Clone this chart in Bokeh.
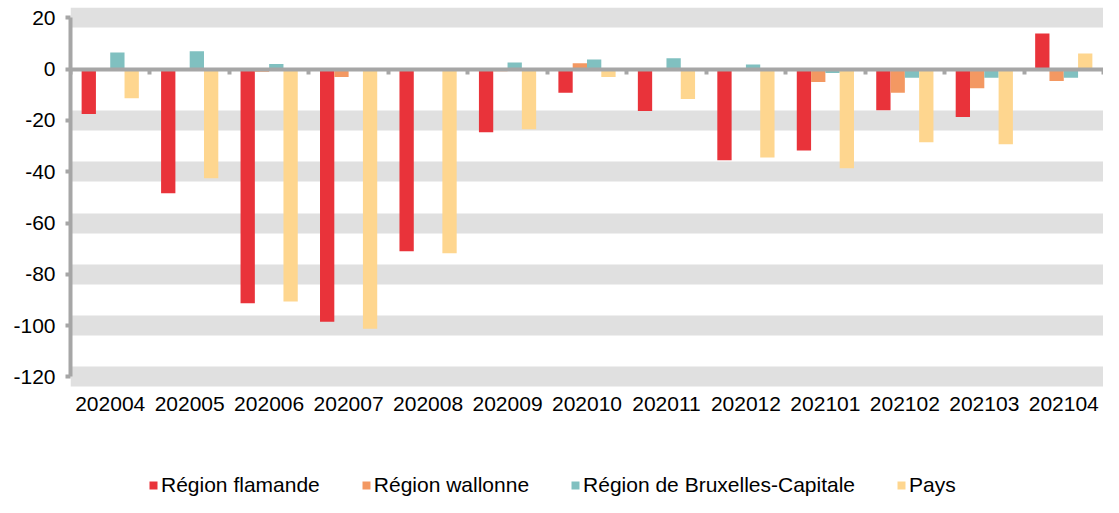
from bokeh.plotting import figure
from bokeh.models import (LinearAxis, FixedTicker, Legend, LegendItem,
                          ColumnDataSource, Range1d)
from bokeh.transform import dodge
from bokeh.embed import file_html
from bokeh.resources import INLINE

months = ["202004", "202005", "202006", "202007", "202008", "202009", "202010",
          "202011", "202012", "202101", "202102", "202103", "202104"]
flamande = [-17.5, -48.4, -91.3, -98.5, -71.0, -24.6, -9.2, -16.3, -35.5, -31.7, -16.0, -18.6, 13.9]
wallonne = [-0.3, -0.3, -1.0, -3.0, -0.5, -0.8, 2.3, 0.0, -0.5, -5.0, -9.2, -7.4, -4.6]
bruxelles = [6.5, 7.0, 2.0, 0.0, 0.0, 2.6, 3.8, 4.3, 1.8, -1.5, -3.3, -3.3, -3.3]
pays = [-11.3, -42.5, -90.6, -101.2, -71.8, -23.4, -3.0, -11.6, -34.4, -38.6, -28.5, -29.3, 6.1]
y_ticks = [20, 0, -20, -40, -60, -80, -100, -120]
band_ticks = [20, -20, -40, -60, -80, -100, -120]

series = [
    ("Région flamande", flamande, "#E9333A"),
    ("Région wallonne", wallonne, "#F39862"),
    ("Région de Bruxelles-Capitale", bruxelles, "#80C0C0"),
    ("Pays", pays, "#FED68F"),
]

centers = [i + 0.5 for i in range(len(months))]
src = ColumnDataSource(dict(x=centers, fl=flamande, wa=wallonne, br=bruxelles, pa=pays))
cols = ["fl", "wa", "br", "pa"]

GRAY = "#A6A6A6"
FONT = "Liberation Sans"
band_floor = -124.1   # lower edge of the banded plot area

p = figure(width=1103, height=497, output_backend="svg", toolbar_location=None,
           x_range=Range1d(0, len(months)), y_range=Range1d(-167.0, 24.06),
           x_axis_type=None, min_border_left=70, min_border_right=0,
           min_border_top=7, min_border_bottom=0)
p.outline_line_color = None
p.background_fill_color = "white"

bw = 0.18
offsets = [-1.5 * bw, -0.5 * bw, 0.5 * bw, 1.5 * bw]
items = []
for (name, vals, color), col, off in zip(series, cols, offsets):
    r = p.vbar(x=dodge("x", off, range=p.x_range), top=col, bottom=0, width=bw,
               source=src, fill_color=color, line_color=None)
    items.append(LegendItem(label=name, renderers=[r]))

# grid bands
p.xgrid.visible = False
p.ygrid.ticker = FixedTicker(ticks=band_ticks)
p.ygrid.grid_line_color = "#E0E0E0"
p.ygrid.grid_line_width = 20

# y axis
ya = p.yaxis[0]
ya.ticker = FixedTicker(ticks=y_ticks)
ya.major_label_overrides = {t: str(t) for t in y_ticks}
ya.bounds = (-120, 20)
ya.axis_line_color = GRAY
ya.axis_line_width = 4
ya.major_tick_line_color = GRAY
ya.major_tick_line_width = 4
ya.major_tick_in = 0
ya.major_tick_out = 5
ya.minor_tick_line_color = None
ya.major_label_text_font = FONT
ya.major_label_text_font_size = "21px"
ya.major_label_text_color = "black"
ya.major_label_standoff = 10

# category label axis, pinned under the banded area
la = LinearAxis(fixed_location=band_floor, ticker=FixedTicker(ticks=centers),
                major_label_overrides={c: m for c, m in zip(centers, months)})
la.axis_line_color = None
la.major_tick_line_color = None
la.minor_tick_line_color = None
la.major_label_text_font = FONT
la.major_label_text_font_size = "21px"
la.major_label_text_color = "black"
la.major_label_standoff = 4
p.add_layout(la, "below")

# zero line axis with category boundary ticks
za = LinearAxis(fixed_location=0, ticker=FixedTicker(ticks=list(range(len(months) + 1))))
za.axis_line_color = GRAY
za.axis_line_width = 4
za.major_tick_line_color = GRAY
za.major_tick_line_width = 4
za.major_tick_in = 0
za.major_tick_out = 5
za.minor_tick_line_color = None
za.major_label_text_color = None
za.major_label_text_font_size = "1px"
p.add_layout(za, "below")

legend = Legend(items=items, orientation="horizontal", location=(78, 0),
                glyph_width=10, glyph_height=10, label_standoff=3, spacing=41,
                padding=0, margin=0, border_line_color=None,
                background_fill_alpha=0, label_text_font=FONT,
                label_text_font_size="21px", label_text_color="black")
p.add_layout(legend, "center")

open("out.html", "w").write(file_html(p, INLINE))
